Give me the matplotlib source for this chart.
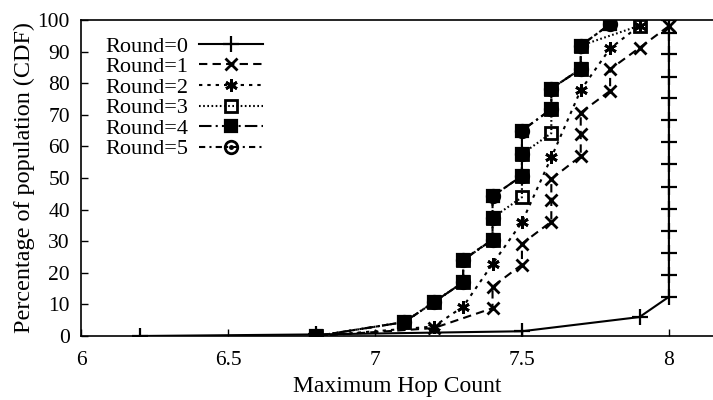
import matplotlib
matplotlib.use("Agg")
import matplotlib.pyplot as plt
from matplotlib.lines import Line2D

plt.rcParams['font.family'] = ['Liberation Serif', 'DejaVu Serif']

# CDF points (x = max hop count, y = % of population)
r0_x = [6.2, 6.8, 7.5, 7.9, 8.0, 8.0, 8.0, 8.0, 8.0, 8.0, 8.0, 8.0, 8.0, 8.0, 8.0, 8.0, 8.0, 8.0]
r0_y = [0, 0.5, 1.5, 6, 12.4, 19.3, 26.2, 33.2, 40.2, 47.2, 54.3, 61.3, 68.4, 75.2, 82.1, 89.2, 96, 100]

r1_x = [6.8, 7.2, 7.4, 7.4, 7.5, 7.5, 7.6, 7.6, 7.6, 7.7, 7.7, 7.7, 7.8, 7.8, 7.9, 8.0]
r1_y = [0, 2.5, 8.8, 15.6, 22.6, 29.2, 36.2, 43.1, 49.7, 56.9, 63.8, 70.7, 77.6, 84.4, 91.2, 98.1]

r2_x = [6.8, 7.2, 7.3, 7.4, 7.5, 7.6, 7.7, 7.8, 7.9]
r2_y = [0, 3, 9.3, 22.8, 36, 56.5, 77.8, 91, 98.2]

r3_x = [6.8, 7.1, 7.2, 7.3, 7.3, 7.4, 7.4, 7.5, 7.5, 7.5, 7.6, 7.6, 7.6, 7.7, 7.7, 7.9]
r3_y = [0, 4.4, 10.7, 17, 24, 30.5, 37.4, 43.9, 50.7, 57.6, 64.2, 71.8, 78.3, 84.5, 91.9, 98.2]

r4_x = [6.8, 7.1, 7.2, 7.3, 7.3, 7.4, 7.4, 7.4, 7.5, 7.5, 7.5, 7.6, 7.6, 7.7, 7.7, 7.8]
r4_y = [0, 4.4, 10.7, 17, 24, 30.5, 37.4, 44.2, 50.7, 57.6, 65, 71.8, 78.3, 84.5, 91.9, 98.7]

r5_x = [6.8, 7.1, 7.2, 7.3, 7.3, 7.4, 7.4, 7.4, 7.5, 7.5, 7.5, 7.6, 7.6, 7.7, 7.7, 7.8]
r5_y = [0, 4.4, 10.7, 17, 24.2, 30.5, 37.4, 44.2, 50.7, 57.6, 65, 71.8, 78.3, 84.5, 91.9, 98.7]

labels = ['Round=0', 'Round=1', 'Round=2', 'Round=3', 'Round=4', 'Round=5']

fig = plt.figure(figsize=(7.13, 4.0), dpi=100)
ax = fig.add_axes([0.1136, 0.16, 0.8864, 0.79])

lw = 1.5
ms = 9
mew = 1.6
h0, = ax.plot(r0_x, r0_y, color='black', lw=lw, ls='-', marker='+', ms=ms + 2, mew=mew)
h1, = ax.plot(r1_x, r1_y, color='black', lw=lw, ls=(0, (4, 2.5)), marker='x', ms=ms, mew=mew + 0.4)
h2, = ax.plot(r2_x, r2_y, color='black', lw=lw, ls=(0, (1.6, 2.4)), marker=(6, 2, 0), ms=ms, mew=mew + 0.4)
h3, = ax.plot(r3_x, r3_y, color='black', lw=lw, ls=(0, (0.8, 1.2)), marker='s', ms=ms, mew=mew + 0.4,
              mfc='none')
h4, = ax.plot(r4_x, r4_y, color='black', lw=lw, ls=(0, (6, 2, 1, 2)), marker='s', ms=ms, mew=mew)
h5, = ax.plot(r5_x, r5_y, color='black', lw=lw, ls=(0, (3, 2, 1, 2)), marker='o', ms=ms, mew=mew + 0.4,
              mfc='none')
dot5 = Line2D([], [], color='black', marker='.', ms=5, ls='none')

ax.set_xlim(6, 8.15)
ax.set_ylim(0, 100)
ax.set_xticks([6, 6.5, 7, 7.5, 8])
ax.set_xticklabels(['6', '6.5', '7', '7.5', '8'])
ax.set_yticks(range(0, 101, 10))
ax.tick_params(direction='in', length=5, width=1, labelsize=15.5, pad=8)
ax.tick_params(axis='x', pad=11)
ax.spines['right'].set_visible(False)
for s in ['left', 'bottom', 'top']:
    ax.spines[s].set_linewidth(1.2)

ax.set_xlabel('Maximum Hop Count', fontsize=17, labelpad=4)
ax.set_ylabel('Percentage of population (CDF)', fontsize=17.4, labelpad=2)

ax.legend([h0, h1, h2, h3, h4, (h5, dot5)], labels, loc='upper left', bbox_to_anchor=(0.039, 0.949),
          frameon=False, markerfirst=False, numpoints=1, handlelength=2.9, handletextpad=0.45,
          labelspacing=0.0, fontsize=16, borderpad=0.0, borderaxespad=0.0)

fig.savefig('out.png', dpi=100)
